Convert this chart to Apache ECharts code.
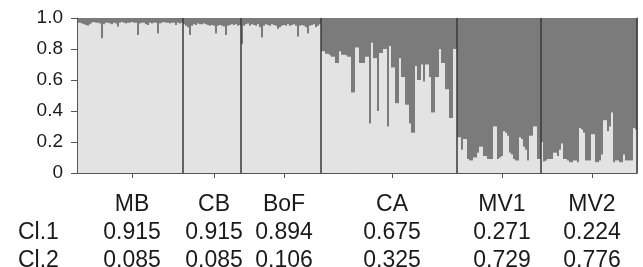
<!DOCTYPE html>
<html>
<head>
<meta charset="utf-8">
<script src="https://cdn.jsdelivr.net/npm/echarts@6/dist/echarts.min.js"></script>
<style>
  html, body { margin: 0; padding: 0; background: #fff; }
  #chart { width: 643px; height: 267px; }
</style>
</head>
<body>
<div id="chart"></div>
<script>
// populations and mean membership per cluster
var groups = ['MB', 'CB', 'BoF', 'CA', 'MV1', 'MV2'];
var cl1Mean = [0.915, 0.915, 0.894, 0.675, 0.271, 0.224];
var cl2Mean = [0.085, 0.085, 0.106, 0.325, 0.729, 0.776];
var rowNames = ['Cl.1', 'Cl.2'];

// individual membership in cluster 2 (dark part)
var mbQ2 = [0.03, 0.03, 0.035, 0.04, 0.045, 0.05, 0.04, 0.03, 0.025, 0.03,
  0.03, 0.035, 0.13, 0.04, 0.03, 0.03, 0.035, 0.04, 0.03, 0.035,
  0.055, 0.03, 0.025, 0.03, 0.035, 0.03, 0.03, 0.025, 0.03, 0.03,
  0.11, 0.035, 0.03, 0.03, 0.04, 0.045, 0.03, 0.035, 0.03, 0.03,
  0.1, 0.035, 0.03, 0.025, 0.03, 0.03, 0.035, 0.03, 0.03, 0.045,
  0.03, 0.035, 0.03];
var cbQ2 = [0.04, 0.05, 0.06, 0.11, 0.05, 0.04, 0.045, 0.035, 0.04, 0.04,
  0.035, 0.04, 0.045, 0.05, 0.045, 0.05, 0.1, 0.05, 0.045, 0.05,
  0.055, 0.11, 0.05, 0.045, 0.04, 0.045, 0.04, 0.05, 0.045];
var bofQ2 = [0.17, 0.05, 0.04, 0.035, 0.05, 0.04, 0.045, 0.05, 0.04, 0.06,
  0.125, 0.05, 0.04, 0.045, 0.05, 0.04, 0.045, 0.05, 0.07, 0.06,
  0.05, 0.045, 0.05, 0.04, 0.05, 0.045, 0.04, 0.05, 0.12, 0.05,
  0.045, 0.05, 0.06, 0.1, 0.05, 0.045, 0.04, 0.06, 0.05, 0.04];
var caQ2 = [0.215, 0.215, 0.23, 0.23, 0.24, 0.25, 0.25, 0.29, 0.29, 0.215,
  0.237, 0.237, 0.24, 0.25, 0.25, 0.48, 0.48, 0.19, 0.19, 0.29,
  0.29, 0.29, 0.25, 0.25, 0.68, 0.16, 0.26, 0.26, 0.6, 0.225,
  0.225, 0.2, 0.2, 0.7, 0.18, 0.32, 0.32, 0.55, 0.55, 0.26,
  0.38, 0.38, 0.56, 0.56, 0.68, 0.74, 0.74, 0.31, 0.4, 0.4,
  0.3, 0.41, 0.3, 0.3, 0.38, 0.61, 0.61, 0.38, 0.38, 0.2,
  0.29, 0.29, 0.46, 0.46, 0.645, 0.645, 0.2, 0.2];
var mv1Q2 = [0.77, 0.77, 0.85, 0.78, 0.78, 0.91, 0.92, 0.92, 0.9, 0.9,
  0.87, 0.83, 0.83, 0.89, 0.89, 0.91, 0.91, 0.91, 0.7, 0.7,
  0.91, 0.9, 0.89, 0.73, 0.74, 0.76, 0.87, 0.88, 0.91, 0.92,
  0.92, 0.77, 0.78, 0.83, 0.85, 0.92, 0.76, 0.76, 0.7, 0.7,
  0.91, 0.91];
var mv2Q2 = [0.8, 0.925, 0.92, 0.91, 0.91, 0.91, 0.87, 0.87, 0.89, 0.85,
  0.81, 0.91, 0.91, 0.92, 0.93, 0.93, 0.92, 0.92, 0.93, 0.71,
  0.72, 0.74, 0.92, 0.92, 0.92, 0.75, 0.75, 0.93, 0.93, 0.92,
  0.88, 0.66, 0.66, 0.73, 0.7, 0.61, 0.93, 0.92, 0.92, 0.93,
  0.93, 0.88, 0.92, 0.92, 0.92, 0.92, 0.71, 0.72];

var FONT = 'Liberation Sans, Arial, Helvetica, sans-serif';

// flatten into one category axis, remember where each population starts
var names = [], dark = [], light = [], starts = [], mids = {};
[mbQ2, cbQ2, bofQ2, caQ2, mv1Q2, mv2Q2].forEach(function (arr, g) {
  starts.push(names.length);
  mids[names.length + Math.floor(arr.length / 2) + 1] = g;
  arr.forEach(function (v, i) {
    names.push(groups[g] + '-' + (i + 1));
    dark.push(v);
    light.push(+(1 - v).toFixed(3));
  });
});

function isMid(idx) { return mids[idx] !== undefined; }
function isStart(idx) { return idx > 0 && starts.indexOf(idx) > -1; }

var myChart = echarts.init(document.getElementById('chart'));
myChart.setOption({
  animation: false,
  grid: { left: 77, right: 6, top: 18, bottom: 94, containLabel: false, outerBoundsMode: 'none' },
  xAxis: {
    type: 'category',
    data: names,
    boundaryGap: true,
    z: 10,
    axisLine: { lineStyle: { color: '#555', width: 1 } },
    axisTick: { show: true, interval: isMid, alignWithLabel: true, length: 5, lineStyle: { color: '#555' } },
    axisLabel: {
      interval: isMid,
      margin: 18,
      fontFamily: FONT,
      fontSize: 23,
      lineHeight: 28,
      color: '#1a1a1a',
      formatter: function (v, idx) {
        var g = mids[idx];
        if (g === undefined) return '';
        return groups[g] + '\n' + cl1Mean[g].toFixed(3) + '\n' + cl2Mean[g].toFixed(3);
      }
    },
    // population separators
    splitLine: { show: true, interval: isStart, lineStyle: { color: '#3a3a3a', width: 1.5 } }
  },
  yAxis: [{
    type: 'value',
    min: 0,
    max: 1,
    interval: 0.2,
    z: 10,
    axisLine: { show: true, lineStyle: { color: '#555' } },
    axisTick: { show: true, length: 6, lineStyle: { color: '#555' } },
    axisLabel: {
      margin: 14,
      fontFamily: FONT,
      fontSize: 19,
      color: '#1a1a1a',
      formatter: function (v) { return v === 0 ? '0' : v.toFixed(1); }
    },
    splitLine: { show: false }
  }, {
    type: 'value',
    position: 'right',
    min: 0,
    max: 1,
    z: 10,
    axisLine: { show: true, lineStyle: { color: '#555' } },
    axisTick: { show: false },
    axisLabel: { show: false },
    splitLine: { show: false }
  }],
  graphic: rowNames.map(function (t, i) {
    return {
      type: 'text',
      left: 18,
      top: 221 + i * 28,
      style: { text: t, font: '23px ' + FONT, fill: '#1a1a1a' }
    };
  }),
  series: [{
    name: 'Cl.1',
    type: 'bar',
    stack: 'q',
    data: light,
    barCategoryGap: '0%',
    silent: true,
    itemStyle: { color: '#e3e3e3' }
  }, {
    name: 'Cl.2',
    type: 'bar',
    stack: 'q',
    data: dark,
    barCategoryGap: '0%',
    silent: true,
    itemStyle: { color: '#7b7b7b' }
  }]
});
</script>
</body>
</html>
